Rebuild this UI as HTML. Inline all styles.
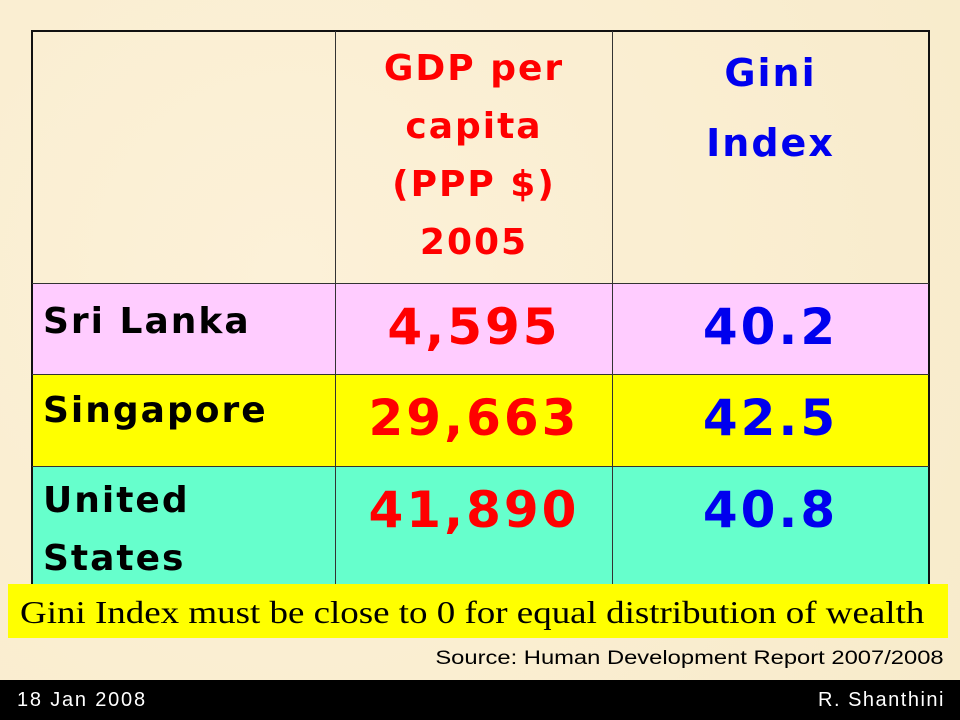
<!DOCTYPE html>
<html><head><meta charset="utf-8"><style>
body{margin:0;width:960px;height:720px;overflow:hidden;background:#fbefd2;position:relative;font-family:"DejaVu Sans","Liberation Sans",sans-serif}
.c{position:absolute;box-sizing:border-box;display:flex;align-items:center;justify-content:center;text-align:center;font-weight:bold}
.l{justify-content:flex-start;padding-left:10px;text-align:left;letter-spacing:2px}
.n{letter-spacing:3px}
</style></head><body>
<div style="position:absolute;left:0;top:0;width:960px;height:680px;background:radial-gradient(circle at 30% 40%,#fcf1d8,#f8ebcb)"></div>
<div style="position:absolute;left:31px;top:30px;width:899px;height:562px;border:2px solid #111;box-sizing:border-box">
</div>
<div style="position:absolute;left:33px;top:284px;width:895px;height:90px;background:#ffccff"></div>
<div style="position:absolute;left:33px;top:375px;width:895px;height:91px;background:#ffff00"></div>
<div style="position:absolute;left:33px;top:467px;width:895px;height:123px;background:#66ffcc"></div>
<div>
<div style="position:absolute;left:335px;top:31px;width:1px;height:560px;background:#333"></div>
<div style="position:absolute;left:612px;top:31px;width:1px;height:560px;background:#333"></div>
<div style="position:absolute;left:32px;top:283px;width:897px;height:1px;background:#333"></div>
<div style="position:absolute;left:32px;top:374px;width:897px;height:1px;background:#333"></div>
<div style="position:absolute;left:32px;top:466px;width:897px;height:1px;background:#333"></div>
</div>
<div class="c" style="left:336px;top:40px;width:276px;height:240px;color:#ff0000;font-size:36px;letter-spacing:2px;line-height:58px;align-items:flex-start">GDP per<br>capita<br>(PPP $)<br>2005</div>
<div class="c" style="left:613px;top:38px;width:315px;height:140px;color:#0000ee;font-size:38px;letter-spacing:2px;line-height:70px;align-items:flex-start">Gini<br>Index</div>
<div class="c l" style="left:33px;top:284px;width:302px;height:75px;font-size:36px">Sri Lanka</div>
<div class="c l" style="left:33px;top:373px;width:302px;height:75px;font-size:36px">Singapore</div>
<div class="c l" style="left:33px;top:470px;width:302px;height:120px;font-size:36px;line-height:58px">United<br>States</div>
<div class="c n" style="left:336px;top:284px;width:276px;height:85px;font-size:50px;color:#ff0000">4,595</div>
<div class="c n" style="left:336px;top:375px;width:276px;height:85px;font-size:50px;color:#ff0000">29,663</div>
<div class="c n" style="left:336px;top:467px;width:276px;height:85px;font-size:50px;color:#ff0000">41,890</div>
<div class="c n" style="left:613px;top:284px;width:315px;height:85px;font-size:50px;color:#0000ee">40.2</div>
<div class="c n" style="left:613px;top:375px;width:315px;height:85px;font-size:50px;color:#0000ee">42.5</div>
<div class="c n" style="left:613px;top:467px;width:315px;height:85px;font-size:50px;color:#0000ee">40.8</div>
<div style="position:absolute;left:8px;top:584px;width:940px;height:54px;background:#ffff00;overflow:hidden">
<div style="position:absolute;left:12px;top:0;font-family:'Liberation Serif',serif;font-size:32px;line-height:56px;white-space:nowrap;transform:scaleX(1.155);transform-origin:left center">Gini Index must be close to 0 for equal distribution of wealth</div>
</div>
<div style="position:absolute;right:16px;top:648px;font-family:'Liberation Sans',sans-serif;font-size:19px;white-space:nowrap;transform:scaleX(1.25);transform-origin:right center">Source: Human Development Report 2007/2008</div>
<div style="position:absolute;left:0;top:680px;width:960px;height:40px;background:#000;color:#fff;font-family:'Liberation Sans',sans-serif;font-size:20px;line-height:40px">
<span style="position:absolute;left:17px;letter-spacing:1.8px">18 Jan 2008</span>
<span style="position:absolute;right:15px;letter-spacing:1.5px">R. Shanthini</span>
</div>
</body></html>
